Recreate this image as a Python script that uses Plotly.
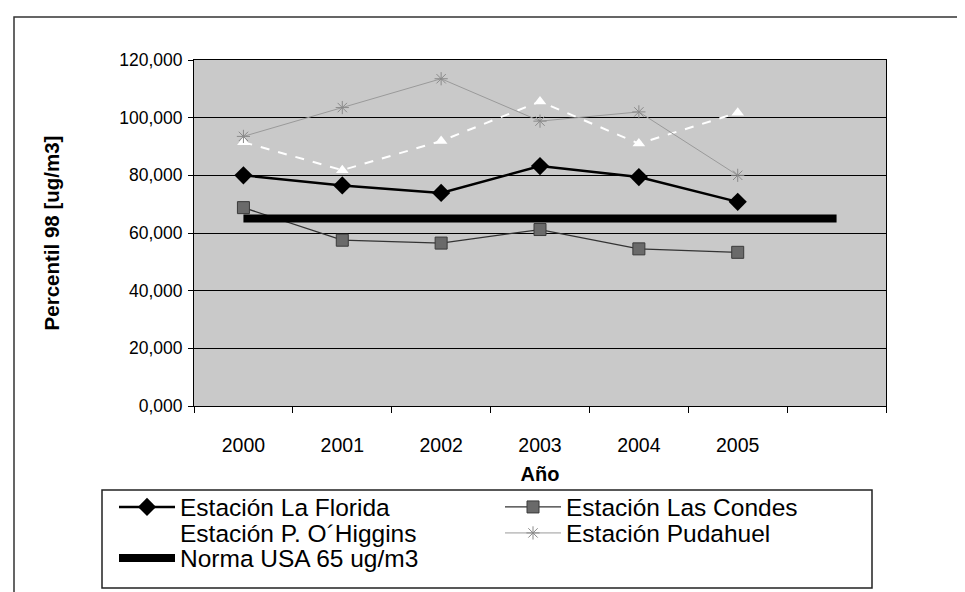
import plotly.graph_objects as go

years = ["2000", "2001", "2002", "2003", "2004", "2005", "2006"]
year_labels = ["2000", "2001", "2002", "2003", "2004", "2005", ""]
station_years = years[:6]

la_florida = [80.0, 76.5, 73.9, 83.2, 79.4, 70.8]
las_condes = [68.8, 57.5, 56.5, 61.2, 54.5, 53.3]
p_ohiggins = [91.5, 81.8, 91.9, 105.6, 91.0, 101.7]
pudahuel = [93.5, 103.5, 113.5, 98.8, 102.0, 80.0]
norma_usa = [65, 65, 65, 65, 65, 65, 65]

y_ticks = [0, 20, 40, 60, 80, 100, 120]

FONT = "Liberation Sans, Arial, sans-serif"

fig = go.Figure()
fig.add_trace(go.Scatter(
    x=station_years, y=la_florida, name="Estación La Florida", mode="lines+markers",
    line=dict(color="black", width=2.5),
    marker=dict(symbol="diamond", size=14, color="black"), legend="legend"))
fig.add_trace(go.Scatter(
    x=station_years, y=las_condes, name="Estación Las Condes", mode="lines+markers",
    line=dict(color="#333333", width=1.3),
    marker=dict(symbol="square", size=12, color="#6a6a6a", line=dict(color="#3a3a3a", width=1)),
    legend="legend2"))
fig.add_trace(go.Scatter(
    x=station_years, y=p_ohiggins, name="Estación P. O´Higgins", mode="lines+markers",
    line=dict(color="white", width=2, dash="dash"),
    marker=dict(symbol="triangle-up", size=11, color="white"), legend="legend3"))
fig.add_trace(go.Scatter(
    x=station_years, y=pudahuel, name="Estación Pudahuel", mode="lines+markers",
    line=dict(color="#9a9a9a", width=1),
    marker=dict(symbol="asterisk-open", size=11, color="#8a8a8a", line=dict(color="#8a8a8a", width=1)),
    legend="legend4"))
fig.add_trace(go.Scatter(
    x=years, y=norma_usa, name="Norma USA 65 ug/m3", mode="lines",
    line=dict(color="black", width=8), legend="legend5"))

plot_l, plot_r, plot_t, plot_b = 186, 878, 52, 398
W, H = 965, 592
pw, ph = plot_r - plot_l, plot_b - plot_t


def px_x(px):
    return (px - plot_l) / pw


def px_y(py):
    return (plot_b - py) / ph


def legend_at(left_px, center_py):
    return dict(
        x=px_x(left_px), y=px_y(center_py),
        orientation="v", xanchor="left", yanchor="middle",
        bgcolor="rgba(0,0,0,0)", borderwidth=0,
        font=dict(family=FONT, size=24.5, color="black"),
        itemwidth=56,
    )


col1, col2 = 106, 492
row1, row2, row3 = 499, 525, 550

fig.update_layout(
    width=W, height=H,
    margin=dict(l=plot_l, r=W - plot_r, t=plot_t, b=H - plot_b, pad=0, autoexpand=False),
    paper_bgcolor="white",
    plot_bgcolor="#c9c9c9",
    separators=",.",
    font=dict(family=FONT, color="black", size=19),
    showlegend=True,
    legend=legend_at(col1, row1),
    legend2=legend_at(col2, row1),
    legend3=legend_at(col1, row2),
    legend4=legend_at(col2, row2),
    legend5=legend_at(col1, row3),
    xaxis=dict(
        type="category", categoryorder="array", categoryarray=years,
        tickvals=years, ticktext=year_labels, range=[-0.5, 6.5],
        showgrid=False, showline=True, linecolor="black", linewidth=1, mirror=True,
        ticks="outside", ticklen=6, tickcolor="black", tickson="boundaries",
        ticklabelstandoff=22,
        tickfont=dict(family=FONT, size=19.5),
        title=dict(text="<b>Año</b>", font=dict(family=FONT, size=20), standoff=11),
        zeroline=False, automargin=False,
    ),
    yaxis=dict(
        range=[0, 120], tickvals=y_ticks, tickformat=",.3f",
        showgrid=True, gridcolor="black", gridwidth=1,
        showline=True, linecolor="black", linewidth=1, mirror=True,
        ticks="outside", ticklen=5, tickcolor="black", ticklabelstandoff=2,
        tickfont=dict(family=FONT, size=17.5),
        title=dict(text="<b>Percentil 98 [ug/m3]</b>", font=dict(family=FONT, size=20.5), standoff=54),
        zeroline=False, automargin=False,
    ),
    shapes=[
        dict(type="rect", xref="paper", yref="paper",
             x0=px_x(6), x1=px_x(990), y0=px_y(620), y1=px_y(9),
             line=dict(color="#333333", width=1.5), fillcolor="rgba(0,0,0,0)", layer="below"),
        dict(type="rect", xref="paper", yref="paper",
             x0=px_x(94), x1=px_x(864), y0=px_y(580), y1=px_y(482),
             line=dict(color="#222222", width=1.5), fillcolor="white", layer="below"),
    ],
)

fig.write_html("out.html")
